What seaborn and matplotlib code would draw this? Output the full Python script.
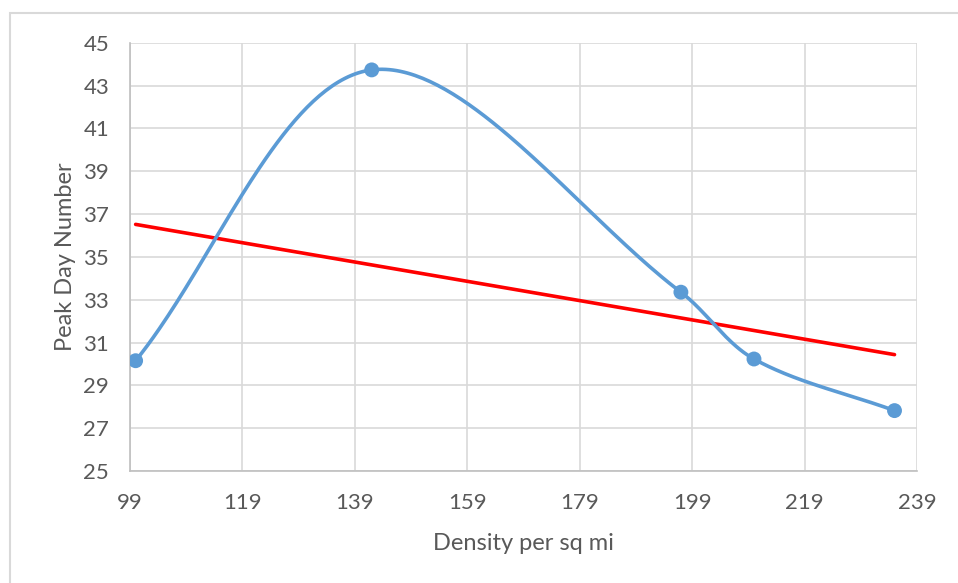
import numpy as np
import pandas as pd
import matplotlib
matplotlib.use("Agg")
import matplotlib.pyplot as plt
from matplotlib.patches import Rectangle
import seaborn as sns

sns.set_style("white")
plt.rcParams['font.family'] = ['Lato', 'DejaVu Sans']

# values
density = [100, 142, 197, 210, 235]
peak_day = [30.15, 43.73, 33.35, 30.23, 27.82]
x_ticks = [99, 119, 139, 159, 179, 199, 219, 239]
y_ticks = [25, 27, 29, 31, 33, 35, 37, 39, 41, 43, 45]

df = pd.DataFrame({'density': density, 'peak': peak_day})


def excel_smooth(ax, xs, ys, n=80):
    # bezier smoothing like Excel's "smoothed line", done in screen space
    p = ax.transData.transform(np.column_stack([xs, ys]).astype(float))
    ext = np.vstack([p[0], p, p[-1]])
    d = np.linalg.norm(np.diff(ext, axis=0), axis=1)
    out = []
    t = np.linspace(0, 1, n)[:, None]
    for i in range(len(p) - 1):
        p0, p3 = ext[i + 1], ext[i + 2]
        seg_len = d[i + 1]
        c1 = p0 + (ext[i + 2] - ext[i]) * seg_len / (d[i] + seg_len) / 3
        c2 = p3 - (ext[i + 3] - ext[i + 1]) * seg_len / (seg_len + d[i + 2]) / 3
        seg = ((1 - t) ** 3) * p0 + 3 * ((1 - t) ** 2) * t * c1 + 3 * (1 - t) * t ** 2 * c2 + t ** 3 * p3
        out.append(seg)
    out = ax.transData.inverted().transform(np.vstack(out))
    return out[:, 0], out[:, 1]


fig = plt.figure(figsize=(9.58, 5.83), dpi=100)
ax = fig.add_axes([130 / 958, 112 / 583, 787 / 958, 428.3 / 583])
ax.set_xlim(99, 239)
ax.set_ylim(25, 45)

# outer chart border
fig.patches.append(Rectangle((10 / 958, -0.1), 1.2, (583 - 13) / 583 + 0.1,
                             transform=fig.transFigure, fill=False,
                             edgecolor='#d9d9d9', linewidth=1.5))

sx, sy = excel_smooth(ax, density, peak_day)
smooth = pd.DataFrame({'x': sx, 'y': sy})
sns.lineplot(data=smooth, x='x', y='y', sort=False, color='#5b9bd5',
             linewidth=2.6, ax=ax, zorder=3)
sns.scatterplot(data=df, x='density', y='peak', color='#5b9bd5', s=115,
                edgecolor='none', ax=ax, zorder=4)
sns.regplot(data=df, x='density', y='peak', scatter=False, ci=None,
            color='#ff0000', line_kws={'linewidth': 2.6}, ax=ax, truncate=True)

ax.set_xlim(99, 239)
ax.set_ylim(25, 45)
ax.set_xticks(x_ticks)
ax.set_yticks(y_ticks)
ax.grid(True, color='#d9d9d9', linewidth=1.2)
ax.set_axisbelow(True)

for s in ['top', 'right']:
    ax.spines[s].set_visible(False)
for s in ['left', 'bottom']:
    ax.spines[s].set_color('#bfbfbf')
    ax.spines[s].set_linewidth(1.2)

ax.tick_params(axis='x', direction='out', length=5, width=1.2, color='#bfbfbf',
               pad=11, labelsize=16, labelcolor='#595959')
ax.tick_params(axis='y', length=0, pad=15, labelsize=16, labelcolor='#595959')

ax.set_xlabel('Density per sq mi', fontsize=17, color='#595959', labelpad=14)
ax.set_ylabel('Peak Day Number', fontsize=17, color='#595959', labelpad=5)

fig.savefig('out.png', dpi=100)
